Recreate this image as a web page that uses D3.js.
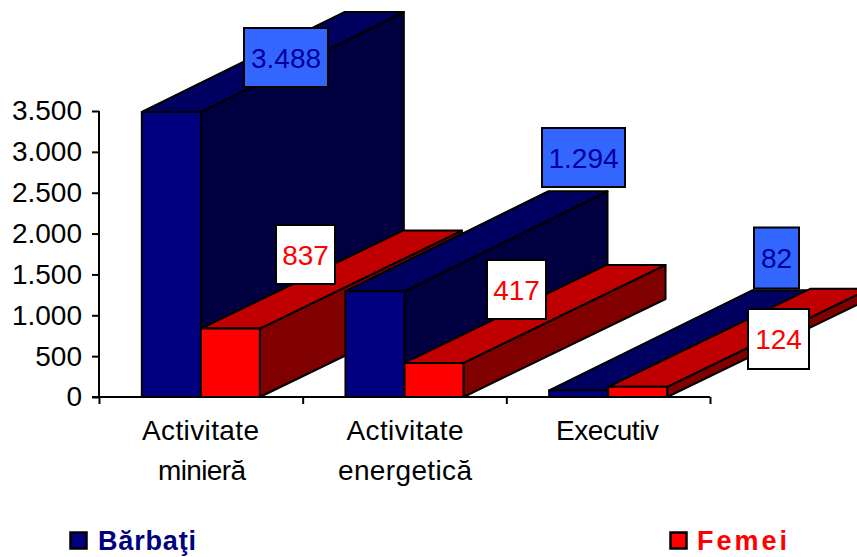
<!DOCTYPE html>
<html><head><meta charset="utf-8">
<script src="https://cdn.jsdelivr.net/npm/d3@7"></script>
<style>html,body{margin:0;padding:0;background:#fff;overflow:hidden}svg{display:block}text{font-family:"Liberation Sans",Arial,sans-serif}</style>
</head><body><svg id="c" width="857" height="557"></svg>
<script>
const categories = [["Activitate","minieră"],["Activitate","energetică"],["Executiv"]];
const seriesNames = ["Bărbaţi","Femei"];
const barbati = [3488,1294,82];
const femei = [837,417,124];
const labelsB = ["3.488","1.294","82"];
const labelsF = ["837","417","124"];
const yTicks = [0,500,1000,1500,2000,2500,3000,3500];
const yTickLabels = ["0","500","1.000","1.500","2.000","2.500","3.000","3.500"];

const svg = d3.select("#c");
const cats = d3.range(categories.length);
const x = d3.scaleBand().domain(cats).range([99,710]);
const xs = d3.scaleBand().domain([0,1]).range([0,x.bandwidth()]).paddingInner(0).paddingOuter(0.725);
const y = d3.scaleLinear().domain([0,3500]).range([397,111]);
const depth = [[203,-100],[202,-98]];
const colors = [{front:"#000080",top:"#000060",side:"#000040",box:"#3366FF",text:"#00009C"},
                {front:"#FF0000",top:"#C00000",side:"#800000",box:"#FFFFFF",text:"#FF0000"}];
const data = [barbati,femei];
const boxes = [[[286,57.5,84,59],[583.5,157.5,83,59],[776.5,258,45,61]],
               [[305.5,254.5,59,59],[516.5,289.5,59,59],[778.5,339,61,60]]];
const labels = [labelsB,labelsF];
const catLayout = [[[200.5,117],[202,88]],[[405,117],[405,134]],[[607.5,103]]];

const gy = svg.append("g").attr("transform","translate(99,0)")
  .call(d3.axisLeft(y).tickValues(yTicks).tickFormat((d,i)=>yTickLabels[i]).tickSize(7).tickPadding(10));
gy.select(".domain").attr("d","M0,111V397").attr("stroke","#000").attr("stroke-width",2);
gy.selectAll(".tick line").attr("stroke","#000").attr("stroke-width",2);
gy.selectAll("text").attr("font-size",28).attr("fill","#000");
const xAxisScale = d3.scaleLinear().domain([0,3]).range([99,710]);
const gx = svg.append("g").attr("transform","translate(0,397)")
  .call(d3.axisBottom(xAxisScale).tickValues([0,1,2,3]).tickFormat("").tickSize(7));
gx.select(".domain").attr("d","M92,0H710").attr("stroke","#000").attr("stroke-width",2);
gx.selectAll(".tick line").attr("stroke","#000").attr("stroke-width",2);

const line = d3.line();
cats.forEach(c=>{
  [0,1].forEach(s=>{
    const v = data[s][c], col = colors[s], [DX,DY]=depth[s];
    const x0 = x(c)+xs(s), x1 = x0+xs.bandwidth(), yt = y(v), yb = y(0);
    const g = svg.append("g");
    const face=(pts,fill)=>g.append("path").attr("d",line(pts)+"Z").attr("fill",fill).attr("stroke","#000").attr("stroke-width",2).attr("stroke-linejoin","round");
    face([[x1,yt],[x1+DX,yt+DY],[x1+DX,yb+DY],[x1,yb]],col.side);
    face([[x0,yt],[x0+DX,yt+DY],[x1+DX,yt+DY],[x1,yt]],col.top);
    face([[x0,yt],[x1,yt],[x1,yb],[x0,yb]],col.front);
  });
});

cats.forEach(c=>{
  categories[c].forEach((t,i)=>{
    const [cx,w]=catLayout[c][i];
    svg.append("text").attr("x",cx).attr("y",440+i*40).attr("text-anchor","middle")
      .attr("font-size",28).attr("fill","#000")
      .attr("textLength",w).attr("lengthAdjust","spacing").text(t);
  });
});

[0,1].forEach(s=>cats.forEach(c=>{
  const [cx,cy,w,h]=boxes[s][c];
  svg.append("rect").attr("x",cx-w/2).attr("y",cy-h/2).attr("width",w).attr("height",h)
    .attr("fill",colors[s].box).attr("stroke","#000").attr("stroke-width",2);
  svg.append("text").attr("x",cx).attr("y",cy+10).attr("text-anchor","middle")
    .attr("font-size",28).attr("fill",colors[s].text).text(labels[s][c]);
}));

const legX=[70,670], legTxt=[98,697], legW=[98,90];
seriesNames.forEach((n,i)=>{
  svg.append("rect").attr("x",legX[i]+0.5).attr("y",532.5).attr("width",16).attr("height",16)
    .attr("fill",colors[i].front).attr("stroke","#000").attr("stroke-width",2.5);
  svg.append("text").attr("x",legTxt[i]).attr("y",550).attr("font-size",27).attr("font-weight","bold")
    .attr("fill",colors[i].front)
    .attr("textLength",legW[i]).attr("lengthAdjust","spacing").text(n);
});
</script></body></html>
